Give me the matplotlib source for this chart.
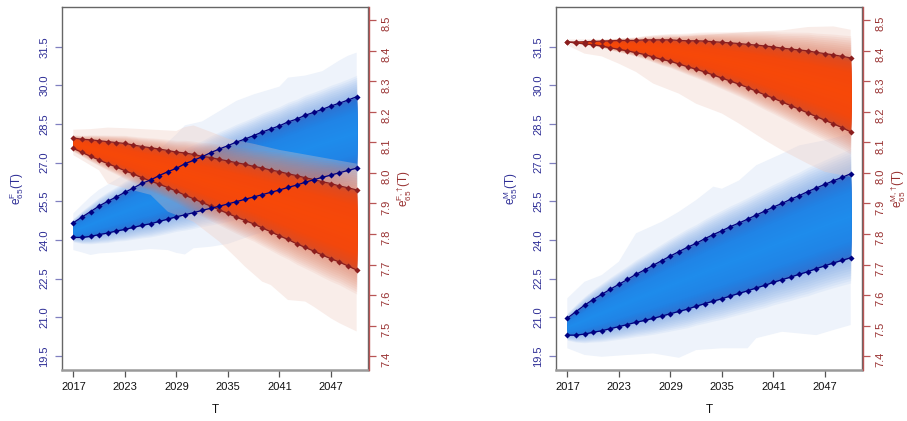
import numpy as np
import matplotlib
matplotlib.use("Agg")
import matplotlib.pyplot as plt

plt.rcParams["font.family"] = ["Liberation Sans", "DejaVu Sans"]
plt.rcParams["mathtext.fontset"] = "custom"
plt.rcParams["mathtext.rm"] = "Liberation Sans"
plt.rcParams["mathtext.it"] = "Liberation Sans"
plt.rcParams["mathtext.default"] = "regular"

years = np.arange(2017, 2051)
xticks = [2017, 2023, 2029, 2035, 2041, 2047]
left_ticks = [19.5, 21.0, 22.5, 24.0, 25.5, 27.0, 28.5, 30.0, 31.5]
right_ticks = [7.4, 7.5, 7.6, 7.7, 7.8, 7.9, 8.0, 8.1, 8.2, 8.3, 8.4, 8.5]

# ---------------- Female panel ----------------
f_e65_hi = [24.67, 24.89, 25.10, 25.32, 25.50, 25.67, 25.85, 26.02, 26.20, 26.33,
            26.50, 26.65, 26.78, 26.96, 27.09, 27.23, 27.39, 27.53, 27.66, 27.80,
            27.92, 28.05, 28.19, 28.31, 28.43, 28.58, 28.69, 28.84, 28.95, 29.07,
            29.20, 29.31, 29.43, 29.56]
f_e65_lo = [24.10, 24.10, 24.14, 24.21, 24.27, 24.35, 24.41, 24.49, 24.57, 24.63,
            24.72, 24.81, 24.90, 24.98, 25.06, 25.15, 25.23, 25.31, 25.40, 25.49,
            25.58, 25.67, 25.76, 25.85, 25.94, 26.04, 26.13, 26.24, 26.34, 26.43,
            26.52, 26.61, 26.70, 26.79]
f_dag_hi = [8.114, 8.110, 8.108, 8.105, 8.102, 8.099, 8.096, 8.091, 8.086, 8.082,
            8.078, 8.073, 8.068, 8.065, 8.060, 8.054, 8.050, 8.044, 8.039, 8.033,
            8.028, 8.021, 8.016, 8.009, 8.004, 7.997, 7.991, 7.984, 7.978, 7.971,
            7.965, 7.957, 7.951, 7.944]
f_dag_lo = [8.080, 8.067, 8.054, 8.042, 8.030, 8.019, 8.007, 7.996, 7.984, 7.973,
            7.963, 7.952, 7.940, 7.927, 7.915, 7.903, 7.891, 7.879, 7.867, 7.855,
            7.844, 7.833, 7.820, 7.807, 7.794, 7.782, 7.768, 7.756, 7.744, 7.731,
            7.719, 7.708, 7.695, 7.682]
# outer (widest) noisy envelopes
f_e65_out_hi_x = [2017, 2018, 2019, 2020, 2021, 2023, 2025, 2027, 2029, 2030, 2032,
                  2034, 2036, 2038, 2040, 2041, 2042, 2044, 2046, 2048, 2049, 2050]
f_e65_out_hi = [25.03, 25.36, 25.68, 25.95, 26.15, 26.55, 27.05, 27.50, 28.10, 28.45,
                28.60, 29.00, 29.40, 29.65, 29.85, 29.95, 30.30, 30.38, 30.55, 30.97,
                31.15, 31.27]
f_e65_out_lo_x = [2017, 2018, 2019, 2020, 2022, 2023, 2025, 2026, 2028, 2029, 2030,
                  2031, 2033, 2035, 2038, 2042, 2046, 2050]
f_e65_out_lo = [23.61, 23.52, 23.42, 23.48, 23.52, 23.55, 23.62, 23.65, 23.61, 23.50,
                23.44, 23.68, 23.74, 23.85, 24.20, 24.60, 24.90, 25.10]
f_dag_out_hi_x = [2017, 2019, 2021, 2023, 2025, 2027, 2029, 2030, 2031, 2033, 2035,
                  2038, 2041, 2044, 2047, 2050]
f_dag_out_hi = [8.141, 8.143, 8.148, 8.146, 8.143, 8.140, 8.137, 8.150, 8.155, 8.134,
                8.112, 8.095, 8.075, 8.060, 8.045, 8.030]
f_dag_out_lo_x = [2017, 2020, 2021, 2023, 2026, 2028, 2031, 2034, 2036, 2037, 2039,
                  2040, 2042, 2044, 2045, 2047, 2048, 2050]
f_dag_out_lo = [8.058, 8.008, 7.965, 7.950, 7.928, 7.873, 7.840, 7.775, 7.721, 7.693,
                7.644, 7.633, 7.584, 7.579, 7.562, 7.524, 7.508, 7.481]

# ---------------- Male panel ----------------
m_e65_hi = [20.97, 21.22, 21.47, 21.69, 21.89, 22.09, 22.28, 22.47, 22.67, 22.84,
            23.02, 23.20, 23.38, 23.55, 23.72, 23.87, 24.05, 24.21, 24.36, 24.52,
            24.66, 24.81, 24.97, 25.12, 25.28, 25.42, 25.58, 25.72, 25.88, 26.02,
            26.16, 26.30, 26.43, 26.57]
m_e65_lo = [20.31, 20.31, 20.35, 20.42, 20.48, 20.56, 20.64, 20.72, 20.81, 20.88,
            20.96, 21.05, 21.14, 21.23, 21.32, 21.43, 21.53, 21.63, 21.72, 21.83,
            21.93, 22.03, 22.14, 22.24, 22.36, 22.46, 22.56, 22.67, 22.77, 22.89,
            23.00, 23.11, 23.21, 23.31]
m_dag_hi = [8.428, 8.428, 8.429, 8.430, 8.431, 8.432, 8.433, 8.433, 8.433, 8.435,
            8.435, 8.435, 8.435, 8.433, 8.432, 8.432, 8.431, 8.429, 8.427, 8.425,
            8.423, 8.420, 8.418, 8.415, 8.412, 8.408, 8.405, 8.402, 8.399, 8.394,
            8.390, 8.386, 8.381, 8.376]
m_dag_lo = [8.428, 8.425, 8.422, 8.419, 8.415, 8.409, 8.404, 8.399, 8.393, 8.387,
            8.379, 8.371, 8.365, 8.356, 8.347, 8.339, 8.330, 8.320, 8.310, 8.300,
            8.290, 8.279, 8.267, 8.255, 8.244, 8.232, 8.220, 8.208, 8.196, 8.184,
            8.172, 8.160, 8.148, 8.134]
m_e65_out_hi_x = [2017, 2019, 2021, 2023, 2025, 2028, 2030, 2032, 2034, 2035, 2037,
                  2039, 2042, 2044, 2047, 2050]
m_e65_out_hi = [21.74, 22.38, 22.64, 23.16, 24.26, 24.71, 25.10, 25.55, 26.07, 25.99,
                26.31, 26.90, 27.35, 27.67, 27.87, 28.12]
m_e65_out_lo_x = [2017, 2019, 2021, 2024, 2027, 2030, 2032, 2035, 2038, 2039, 2042,
                  2046, 2048, 2050]
m_e65_out_lo = [19.80, 19.54, 19.47, 19.54, 19.60, 19.43, 19.73, 19.80, 19.80, 20.19,
                20.44, 20.31, 20.51, 20.70]
m_dag_out_hi_x = [2017, 2027, 2035, 2038, 2042, 2045, 2048, 2050]
m_dag_out_hi = [8.436, 8.439, 8.455, 8.461, 8.466, 8.477, 8.479, 8.468]
m_dag_out_lo_x = [2017, 2019, 2021, 2023, 2025, 2027, 2030, 2032, 2035, 2037, 2040,
                  2042, 2045, 2047, 2050]
m_dag_out_lo = [8.417, 8.390, 8.381, 8.357, 8.330, 8.292, 8.259, 8.226, 8.194, 8.161,
                8.107, 8.074, 8.030, 8.003, 7.987]

# ---------------- styling ----------------
BLUE_IN = [(0.0, (30, 140, 236)), (0.6, (32, 132, 230)), (0.9, (42, 118, 215)), (1.0, (58, 110, 200))]
BLUE_MID = (110, 158, 228)
BLUE_OUT = (238, 243, 251)
RED_IN = [(0.0, (247, 72, 8)), (0.6, (243, 71, 12)), (0.9, (225, 74, 30)), (1.0, (204, 80, 48))]
RED_MID = (222, 118, 92)
RED_OUT = (238, 200, 188)

LEFT_COL = "#2E2E96"
RIGHT_COL = "#983030"
RIGHT_AX_COL = "#B85555"
YL_L = (18.957, 33.04)
YL_R = (7.355, 8.5425)
XL = (2015.68, 2051.32)


def ramp(stops, f):
    for (f0, c0), (f1, c1) in zip(stops[:-1], stops[1:]):
        if f <= f1:
            t = 0.0 if f1 == f0 else min(max((f - f0) / (f1 - f0), 0), 1)
            return tuple(((1 - t) * a + t * b) / 255 for a, b in zip(c0, c1))
    return tuple(v / 255 for v in stops[-1][1])


def fan(ax, lo, hi, oxh, oh, oxl, ol, pin, pmid, pout, a_mid, a_out, n_in=30, n_mid=10):
    lo = np.asarray(lo); hi = np.asarray(hi)
    cen = (lo + hi) / 2
    half = (hi - lo) / 2
    # outermost noisy band
    px = np.r_[oxh, oxl[::-1]]
    py = np.r_[oh, ol[::-1]]
    ax.fill(px, py, color=tuple(v / 255 for v in pout), alpha=a_out, lw=0)
    # faint nested bands outside the lines (accumulate towards the lines)
    cm = tuple(v / 255 for v in pmid)
    for f in np.linspace(1.6, 1.0, n_mid + 1)[:-1]:
        ax.fill_between(years, cen - f * half, cen + f * half,
                        color=cm, alpha=a_mid, lw=0)
    # inner nested bands (opaque gradient)
    for f in np.linspace(1.0, 0.0, n_in + 1)[:-1]:
        ax.fill_between(years, cen - f * half, cen + f * half,
                        color=ramp(pin, f), lw=0)


def panel(rect, e_hi, e_lo, d_hi, d_lo, e_out, d_out, lab_l, lab_r):
    ax1 = fig.add_axes(rect)
    ax2 = ax1.twinx()
    fan(ax1, e_lo, e_hi, *e_out, BLUE_IN, BLUE_MID, BLUE_OUT, 0.085, 1.0)
    fan(ax2, d_lo, d_hi, *d_out, RED_IN, RED_MID, RED_OUT, 0.085, 0.32)
    for arr in (d_hi, d_lo):
        ax2.plot(years, arr, color="#8B1E1E", lw=0.9, marker="D", ms=3.1, mew=0)
    for arr in (e_hi, e_lo):
        ax2.plot(years, arr, color="#000080", lw=0.9, marker="D", ms=3.1, mew=0,
                 transform=ax1.transData)
    ax1.set_xlim(*XL)
    ax1.set_ylim(*YL_L)
    ax2.set_ylim(*YL_R)
    ax1.set_xticks(xticks)
    ax1.set_yticks(left_ticks)
    ax1.set_yticklabels([f"{v:.1f}" for v in left_ticks])
    ax2.set_yticks(right_ticks)
    ax2.set_yticklabels([f"{v:.1f}" for v in right_ticks])
    ax1.tick_params(axis="x", length=5, width=0.9, color="#555555", labelsize=8,
                    labelcolor="#111111", pad=4)
    ax1.tick_params(axis="y", length=5, width=0.9, color="#8080C0", labelsize=8,
                    labelcolor=LEFT_COL, labelrotation=90, pad=4)
    ax2.tick_params(axis="y", length=5, width=0.9, color=RIGHT_AX_COL, labelsize=8,
                    labelcolor=RIGHT_COL, labelrotation=90, pad=4)
    for lab in ax1.get_yticklabels() + ax2.get_yticklabels():
        lab.set_va("center")
    for s in ("top", "left", "right"):
        ax1.spines[s].set_color("#666666")
        ax1.spines[s].set_linewidth(1.0)
    ax1.spines["bottom"].set_color("#9A9A9A")
    ax1.spines["bottom"].set_linewidth(1.8)
    for s in ("top", "left", "bottom"):
        ax2.spines[s].set_visible(False)
    ax2.spines["right"].set_color(RIGHT_AX_COL)
    ax2.spines["right"].set_linewidth(1.0)
    ax2.spines["right"].set_position(("outward", 1))
    ax1.set_xlabel("T", fontsize=8.5, color="#111111")
    ax1.xaxis.set_label_coords(0.5, -0.095)
    ax1.set_ylabel(lab_l, fontsize=8.5, color=LEFT_COL)
    ax1.yaxis.label.set_va("center")
    ax1.yaxis.set_label_coords(-0.147, 0.5)
    ax2.set_ylabel(lab_r, fontsize=8.5, color=RIGHT_COL, rotation=90)
    ax2.yaxis.label.set_va("center")
    ax2.yaxis.set_label_coords(1.118, 0.5)
    return ax1, ax2


fig = plt.figure(figsize=(9.07, 4.21), dpi=100)
W, H = 907, 421
rect_l = [62 / W, (H - 370) / H, 306 / W, 363 / H]
rect_r = [556 / W, (H - 370) / H, 306 / W, 363 / H]

panel(rect_l, f_e65_hi, f_e65_lo, f_dag_hi, f_dag_lo,
      (f_e65_out_hi_x, f_e65_out_hi, f_e65_out_lo_x, f_e65_out_lo),
      (f_dag_out_hi_x, f_dag_out_hi, f_dag_out_lo_x, f_dag_out_lo),
      r"$e_{65}^{F}(T)$", r"$e_{65}^{F,†}(T)$")
panel(rect_r, m_e65_hi, m_e65_lo, m_dag_hi, m_dag_lo,
      (m_e65_out_hi_x, m_e65_out_hi, m_e65_out_lo_x, m_e65_out_lo),
      (m_dag_out_hi_x, m_dag_out_hi, m_dag_out_lo_x, m_dag_out_lo),
      r"$e_{65}^{M}(T)$", r"$e_{65}^{M,†}(T)$")

fig.savefig("out.png", dpi=100)
